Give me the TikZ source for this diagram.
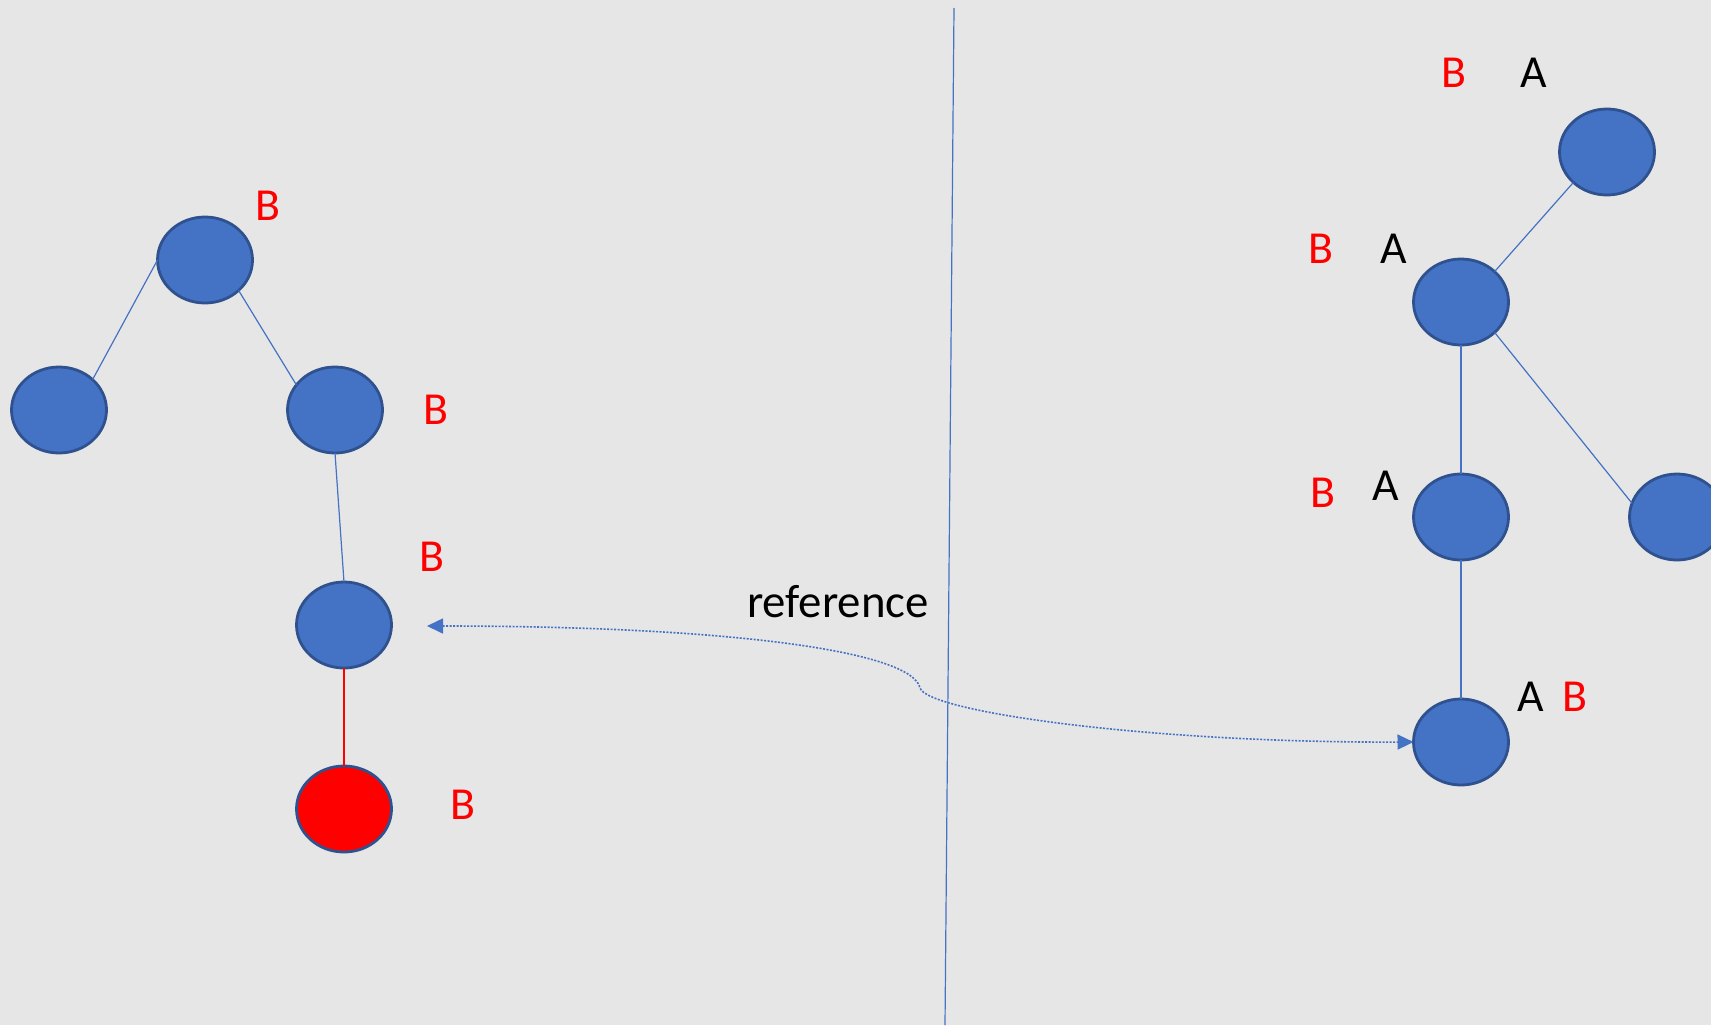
\documentclass[tikz,border=0pt]{standalone}
\usepackage{fontspec}
\setmainfont{Carlito}
\usetikzlibrary{shapes.geometric,arrows.meta}
\definecolor{bg}{RGB}{231,230,230}
\definecolor{nodeblue}{RGB}{68,114,196}
\definecolor{borderblue}{RGB}{47,82,143}
\definecolor{redfill}{RGB}{255,0,0}
\tikzset{
  vert/.style={ellipse, draw=borderblue, line width=2.8bp, fill=nodeblue,
    minimum width=95bp, minimum height=86bp, inner sep=0pt, outer sep=0pt},
  redvert/.style={vert, fill=redfill},
  edge/.style={draw=nodeblue, line width=1.2bp},
  rededge/.style={draw=redfill, line width=1.2bp},
  lblB/.style={text=redfill, font=\fontsize{46}{50}\selectfont, inner sep=0pt},
  lblA/.style={text=black, font=\fontsize{46}{50}\selectfont, inner sep=0pt},
  refarrow/.style={draw=nodeblue, line width=1.6bp, dash pattern=on 2bp off 1.5bp,
    {Triangle[length=16bp,width=15bp,fill=nodeblue]}-{Triangle[length=16bp,width=15bp,fill=nodeblue]}}
}
\begin{document}
\begin{tikzpicture}[x=1bp,y=-1bp]
\useasboundingbox (0,0) rectangle (1711,1025);
\clip (0,0) rectangle (1711,1025);
\fill[bg] (0,0) rectangle (1711,1025);

% divider
\coordinate (dtop) at (954,8);
\coordinate (dbot) at (945,1025);
\draw[edge] (dtop) -- (dbot);

% edges (drawn first, under the nodes)
\node[vert] (L1) at (205,260) {};
\node[vert] (L2) at (59,410) {};
\node[vert] (L3) at (335,410) {};
\node[vert] (L4) at (344,625) {};
\node[redvert] (L5) at (344,809) {};

\node[vert] (R1) at (1607,152) {};
\node[vert] (R2) at (1461,302) {};
\node[vert] (R3) at (1461,517) {};
\node[vert] (R4) at (1677,517) {};
\node[vert] (R5) at (1461,742) {};

\draw[edge] (L1.west) -- (L2.north east);
\draw[edge] (L1.south east) -- (L3.147);
\draw[edge] (L3.south) -- (L4.north);
\draw[rededge] (L4.south) -- (L5.north);
\draw[edge] (R1.south west) -- (R2.north east);
\draw[edge] (R2.south) -- (R3.north);
\draw[edge] (R2.south east) -- (R4.163);
\draw[edge] (R3.south) -- (R5.north);

% labels left
\node[lblB] (bL1) at (268,206) {B};
\node[lblB] (bL3) at (436,410) {B};
\node[lblB] (bL4) at (432,557) {B};
\node[lblB] (bL5) at (463,805) {B};

% labels right
\node[lblB] (bR1) at (1454,73) {B};
\node[lblA] (aR1) at (1534,73) {A};
\node[lblB] (bR2) at (1321,249) {B};
\node[lblA] (aR2) at (1394,249) {A};
\node[lblB] (bR3) at (1323,493) {B};
\node[lblA] (aR3) at (1386,486) {A};
\node[lblA] (aR5) at (1531,697) {A};
\node[lblB] (bR5) at (1575,697) {B};

% reference arrow
\coordinate (arrL) at (427,626);
\coordinate (kink) at (920,688);
\draw[refarrow] (arrL) .. controls (720,626) and (912,650) .. (kink)
  .. controls (928,712) and (1150,743) .. (R5.west);
\node[font=\fontsize{47}{52}\selectfont, anchor=base, inner sep=0pt] (reflbl) at (838,617) {reference};
\end{tikzpicture}
\end{document}
